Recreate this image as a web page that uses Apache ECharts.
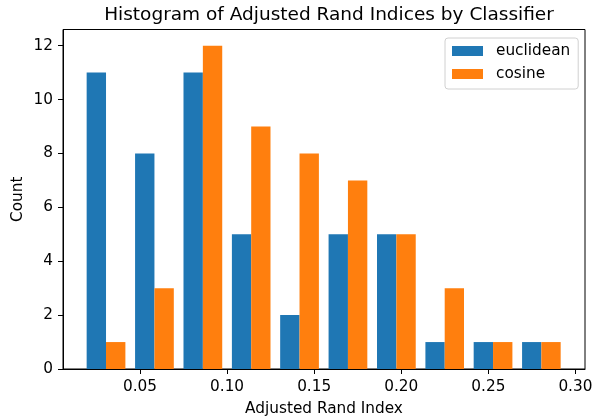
<!DOCTYPE html>
<html>
<head>
<meta charset="utf-8">
<title>Histogram of Adjusted Rand Indices by Classifier</title>
<script src="https://cdn.jsdelivr.net/npm/echarts@6.0.0/dist/echarts.min.js"></script>
<style>
  body { margin: 0; background: #fff; }
  #chart { width: 592px; height: 417px; }
</style>
</head>
<body>
<div id="chart"></div>
<script>
// bin edges of the histogram (10 bins)
var binEdges = [0.0166, 0.0444, 0.0722, 0.1000, 0.1277, 0.1555, 0.1833, 0.2111, 0.2388, 0.2666, 0.2943];
var euclidean = [11, 8, 11, 5, 2, 5, 5, 1, 1, 1];
var cosine = [1, 3, 12, 9, 8, 7, 5, 3, 1, 1];
var xTicks = [0.05, 0.10, 0.15, 0.20, 0.25, 0.30];
var yTicks = [0, 2, 4, 6, 8, 10, 12];

var font = 'DejaVu Sans';

function binData(counts) {
    return counts.map(function (c, i) {
        return [binEdges[i], binEdges[i + 1], c];
    });
}

// bars fill 80% of each bin, split between the two series
function makeRender(f0, f1) {
    return function (params, api) {
        var a = api.value(0), b = api.value(1), w = b - a;
        var p0 = api.coord([a + w * f0, api.value(2)]);
        var p1 = api.coord([a + w * f1, 0]);
        return {
            type: 'rect',
            shape: { x: p0[0], y: p0[1], width: p1[0] - p0[0], height: p1[1] - p0[1] },
            style: api.style()
        };
    };
}

var chart = echarts.init(document.getElementById('chart'));
chart.setOption({
    animation: false,
    title: {
        text: 'Histogram of Adjusted Rand Indices by Classifier',
        left: 324, top: 1, textAlign: 'center',
        textStyle: { fontFamily: font, fontSize: 18.5, fontWeight: 'normal', color: '#000' }
    },
    legend: {
        data: [{ name: 'euclidean', icon: 'rect' }, { name: 'cosine', icon: 'rect' }],
        orient: 'vertical',
        left: 445, top: 38,
        itemWidth: 31, itemHeight: 10, itemGap: 7,
        padding: [5, 8, 7, 7],
        borderColor: '#d0d0d0', borderWidth: 1, borderRadius: 3,
        backgroundColor: '#fff',
        textStyle: { fontFamily: font, fontSize: 15.3, color: '#000', lineHeight: 16, padding: [0, 0, 0, 8] }
    },
    grid: {
        left: 63, right: 7, top: 29.5, bottom: 48,
        outerBoundsMode: 'none', containLabel: false,
        show: true, borderColor: '#000', borderWidth: 1
    },
    xAxis: {
        type: 'value', min: 0.0058, max: 0.3055,
        name: 'Adjusted Rand Index', nameLocation: 'middle', nameGap: 33,
        nameTextStyle: { fontFamily: font, fontSize: 15.3, color: '#000' },
        axisLine: { show: true, lineStyle: { color: '#000' } },
        axisTick: { show: true, length: 5, customValues: xTicks, lineStyle: { color: '#000' } },
        axisLabel: {
            customValues: xTicks, margin: 11,
            fontFamily: font, fontSize: 15.3, color: '#000',
            formatter: function (v) { return v.toFixed(2); }
        },
        splitLine: { show: false }
    },
    yAxis: {
        type: 'value', min: 0, max: 12.6,
        name: 'Count', nameLocation: 'middle', nameGap: 37, nameMoveOverlap: false,
        nameTextStyle: { fontFamily: font, fontSize: 15.3, color: '#000' },
        axisLine: { show: true, lineStyle: { color: '#000' } },
        axisTick: { show: true, length: 5, customValues: yTicks, lineStyle: { color: '#000' } },
        axisLabel: { customValues: yTicks, margin: 10, fontFamily: font, fontSize: 15.3, color: '#000' },
        splitLine: { show: false }
    },
    series: [
        {
            name: 'euclidean', type: 'custom',
            renderItem: makeRender(0.1, 0.5),
            itemStyle: { color: '#1f77b4' },
            encode: { x: [0, 1], y: 2 },
            data: binData(euclidean)
        },
        {
            name: 'cosine', type: 'custom',
            renderItem: makeRender(0.5, 0.9),
            itemStyle: { color: '#ff7f0e' },
            encode: { x: [0, 1], y: 2 },
            data: binData(cosine)
        }
    ]
});
</script>
</body>
</html>
